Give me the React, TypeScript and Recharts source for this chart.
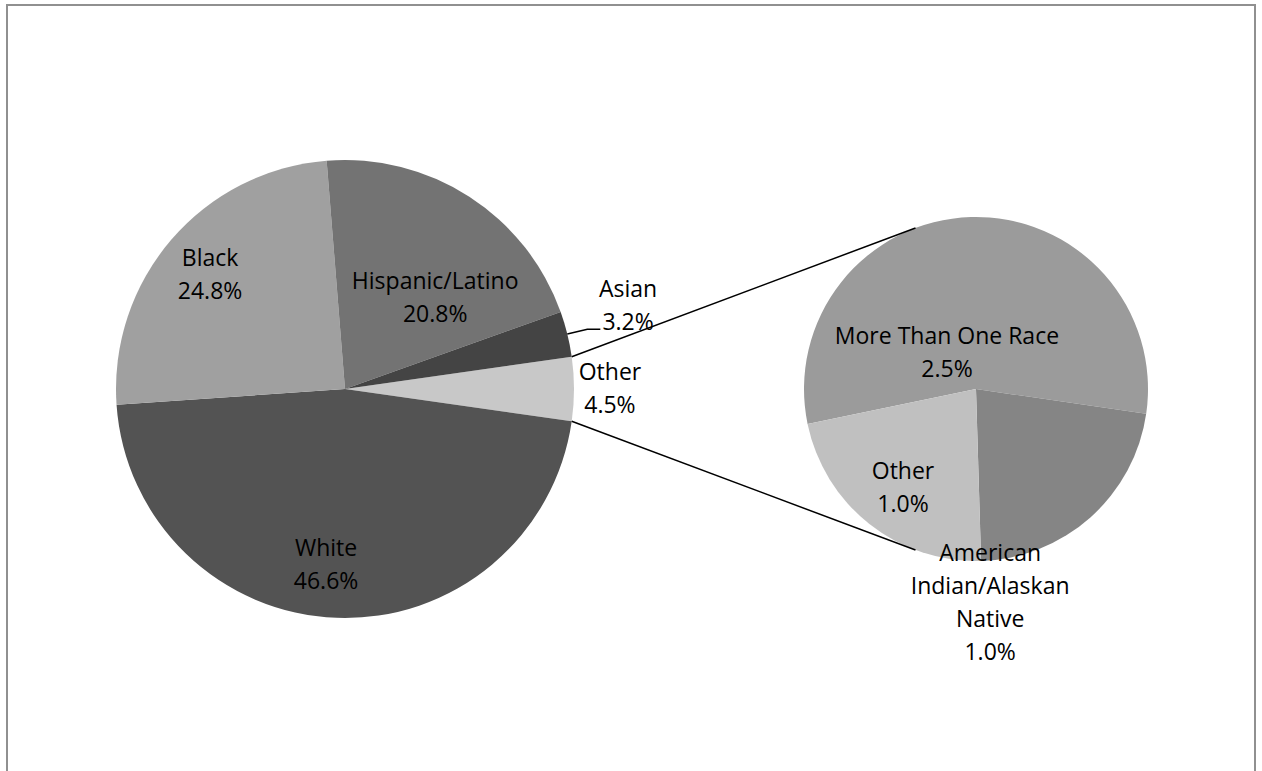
import React from "react";
import { PieChart, Pie, Cell } from "recharts";

// main pie (clockwise, "Other" is split out to the second pie)
const mainNames = ["Other", "White", "Black", "Hispanic/Latino", "Asian"];
const mainValues = [4.5, 46.6, 24.8, 20.8, 3.2];
const mainColors = ["#c8c8c8", "#535353", "#a0a0a0", "#737373", "#444444"];

// breakdown of "Other"
const subNames = ["More Than One Race", "American Indian/Alaskan Native", "Other"];
const subValues = [2.5, 1.0, 1.0];
const subColors = ["#9b9b9b", "#858585", "#c0c0c0"];

const mainData = mainNames.map((name, i) => ({ name, value: mainValues[i] }));
const subData = subNames.map((name, i) => ({ name, value: subValues[i] }));

const W = 1262;
const H = 771;
const MAIN_CX = 345;
const MAIN_CY = 389;
const MAIN_R = 229;
const SUB_CX = 976;
const SUB_CY = 389;
const SUB_R = 172;
const SUB_START = 191.7;
const CONNECT_ANGLE = 110.6;

const FONT = "'Open Sans', sans-serif";
const FONT_SIZE = 23;
const LINE_H = 33;
const RAD = Math.PI / 180;

const otherShare = mainValues[0] / mainValues.reduce((a, b) => a + b, 0);
const MAIN_START = (otherShare * 360) / 2;

// label anchor: [angle in degrees, radius factor] around the pie centre
const mainSpots: Record<string, [number, number]> = {
  Other: [0.4, 1.157],
  White: [-96.2, 0.766],
  Black: [139.4, 0.776],
  "Hispanic/Latino": [45.8, 0.565],
  Asian: [16.6, 1.29],
};
const subSpots: Record<string, [number, number]> = {
  "More Than One Race": [127.7, 0.276],
  "American Indian/Alaskan Native": [-86.2, 1.24],
  Other: [-126.7, 0.71],
};
const wrapped: Record<string, string[]> = {
  "American Indian/Alaskan Native": ["American", "Indian/Alaskan", "Native"],
};

const polar = (cx: number, cy: number, r: number, a: number) => ({
  x: cx + r * Math.cos(a * RAD),
  y: cy - r * Math.sin(a * RAD),
});

const TextBlock = ({ x, y, lines }: { x: number; y: number; lines: string[] }) => {
  const top = y - ((lines.length - 1) * LINE_H) / 2;
  return (
    <g>
      {lines.map((t, i) => (
        <text
          key={i}
          x={x}
          y={top + i * LINE_H}
          textAnchor="middle"
          dominantBaseline="central"
          fontFamily={FONT}
          fontSize={FONT_SIZE}
          fill="#000"
        >
          {t}
        </text>
      ))}
    </g>
  );
};

const mainLabel = (props: any) => {
  const { cx, cy, outerRadius, midAngle, name, value, startAngle, endAngle } = props;
  const spot = mainSpots[name];
  const p = polar(cx, cy, outerRadius * spot[1], spot[0]);
  const lines = [name, `${value.toFixed(1)}%`];
  return (
    <g key={name}>
      {name === "Asian" && (() => {
        const a = polar(cx, cy, outerRadius, midAngle);
        const b = polar(cx, cy, outerRadius * 1.09, midAngle);
        return (
          <polyline
            points={`${a.x},${a.y} ${b.x},${b.y} ${b.x + 13},${b.y}`}
            fill="none"
            stroke="#000"
            strokeWidth={1.5}
          />
        );
      })()}
      {name === "Other" && (() => {
        const s = polar(cx, cy, outerRadius, startAngle);
        const e = polar(cx, cy, outerRadius, endAngle);
        const t1 = polar(SUB_CX, SUB_CY, SUB_R, CONNECT_ANGLE);
        const t2 = polar(SUB_CX, SUB_CY, SUB_R, -CONNECT_ANGLE);
        return (
          <g stroke="#000" strokeWidth={1.5}>
            <line x1={s.x} y1={s.y} x2={t1.x} y2={t1.y} />
            <line x1={e.x} y1={e.y} x2={t2.x} y2={t2.y} />
          </g>
        );
      })()}
      <TextBlock x={p.x} y={p.y} lines={lines} />
    </g>
  );
};

const subLabel = (props: any) => {
  const { cx, cy, outerRadius, name, value } = props;
  const spot = subSpots[name];
  const p = polar(cx, cy, outerRadius * spot[1], spot[0]);
  const lines = [...(wrapped[name] || [name]), `${value.toFixed(1)}%`];
  return <TextBlock key={name} x={p.x} y={p.y} lines={lines} />;
};

export default function App() {
  return (
    <div style={{ position: "absolute", left: 0, top: 0, width: W, height: H, overflow: "hidden", background: "#fff" }}>
      <PieChart width={W} height={H} margin={{ top: 0, right: 0, bottom: 0, left: 0 }}>
        <Pie
          data={mainData}
          dataKey="value"
          nameKey="name"
          cx={MAIN_CX}
          cy={MAIN_CY}
          outerRadius={MAIN_R}
          startAngle={MAIN_START}
          endAngle={MAIN_START - 360}
          stroke="none"
          label={mainLabel}
          labelLine={false}
          isAnimationActive={false}
        >
          {mainData.map((d, i) => (
            <Cell key={d.name} fill={mainColors[i]} />
          ))}
        </Pie>
        <Pie
          data={subData}
          dataKey="value"
          nameKey="name"
          cx={SUB_CX}
          cy={SUB_CY}
          outerRadius={SUB_R}
          startAngle={SUB_START}
          endAngle={SUB_START - 360}
          stroke="none"
          label={subLabel}
          labelLine={false}
          isAnimationActive={false}
        >
          {subData.map((d, i) => (
            <Cell key={d.name} fill={subColors[i]} />
          ))}
        </Pie>
      </PieChart>
      <div
        style={{
          position: "absolute",
          left: 6,
          top: 4,
          width: 1246,
          height: H,
          borderLeft: "2px solid #909090",
          borderTop: "2px solid #909090",
          borderRight: "2px solid #909090",
          pointerEvents: "none",
        }}
      />
    </div>
  );
}
